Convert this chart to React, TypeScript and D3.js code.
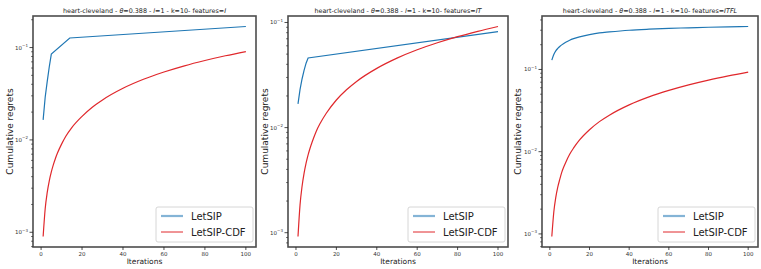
import React from "react";
import * as d3 from "d3";

const W = 761;
const H = 269;

const redIters = [1, 2, 3, 4, 5, 6, 7, 8, 10, 12, 15, 20, 25, 30, 40, 50, 60, 70, 80, 90, 100];
const redP1 = [0.0009, 0.0018, 0.0027, 0.0036, 0.0045, 0.0054, 0.0063, 0.0072, 0.009, 0.0109, 0.0136, 0.018, 0.0226, 0.0271, 0.0362, 0.0453, 0.0543, 0.0634, 0.0724, 0.0815, 0.0905];
const redP2 = [0.00092, 0.00183, 0.00275, 0.00366, 0.00458, 0.0055, 0.0064, 0.0073, 0.0092, 0.011, 0.0137, 0.0183, 0.0229, 0.0275, 0.0366, 0.0458, 0.055, 0.0641, 0.0733, 0.0824, 0.0916];
const redP3 = [0.00093, 0.00185, 0.00278, 0.0037, 0.0046, 0.0056, 0.0065, 0.0074, 0.0093, 0.0111, 0.0139, 0.0185, 0.0232, 0.0278, 0.0371, 0.0464, 0.0556, 0.0649, 0.0742, 0.0834, 0.0927];

const blueItersP1 = [1, 2, 3, 4, 5, 14, 100];
const blueP1 = [0.0165, 0.029, 0.043, 0.062, 0.085, 0.127, 0.169];
const blueItersP2 = [1, 2, 3, 4, 5, 6, 100];
const blueP2 = [0.0168, 0.023, 0.029, 0.035, 0.041, 0.046, 0.082];
const blueItersP3 = [1, 2, 3, 4, 5, 6, 8, 10, 12, 15, 20, 25, 30, 40, 50, 60, 70, 80, 90, 100];
const blueP3 = [0.13, 0.152, 0.168, 0.18, 0.19, 0.199, 0.214, 0.227, 0.237, 0.249, 0.265, 0.278, 0.286, 0.3, 0.309, 0.316, 0.321, 0.326, 0.33, 0.333];

const featureNames = ["I", "IT", "ITFL"];
const xTicks = [0, 20, 40, 60, 80, 100];
const seriesNames = ["LetSIP", "LetSIP-CDF"];

const BLUE = "#1f77b4";
const RED = "#e0282c";
const FONT = "DejaVu Sans, sans-serif";

type Panel = {
  left: number;
  right: number;
  blueX: number[];
  blueY: number[];
  redY: number[];
  feature: string;
  ylabelX: number;
};

const panels: Panel[] = [
  { left: 33, right: 256, blueX: blueItersP1, blueY: blueP1, redY: redP1, feature: featureNames[0], ylabelX: 13 },
  { left: 288, right: 508, blueX: blueItersP2, blueY: blueP2, redY: redP2, feature: featureNames[1], ylabelX: 268 },
  { left: 542, right: 758, blueX: blueItersP3, blueY: blueP3, redY: redP3, feature: featureNames[2], ylabelX: 521 },
];

const TOP = 16;
const BOTTOM = 247;

function PanelView({ p }: { p: Panel }) {
  const x = d3.scaleLinear().domain([-3.95, 104.95]).range([p.left, p.right]);
  const all = [...p.blueY, ...p.redY];
  const lmin = Math.log10(d3.min(all)!);
  const lmax = Math.log10(d3.max(all)!);
  const m = (lmax - lmin) * 0.05;
  const y = d3.scaleLog().domain([Math.pow(10, lmin - m), Math.pow(10, lmax + m)]).range([BOTTOM, TOP]);
  const [d0, d1] = y.domain();

  const majors: number[] = [];
  const minors: number[] = [];
  for (let e = Math.floor(Math.log10(d0)); e <= Math.ceil(Math.log10(d1)); e++) {
    for (let k = 1; k < 10; k++) {
      const v = k * Math.pow(10, e);
      if (v < d0 || v > d1) continue;
      if (k === 1) majors.push(v);
      else minors.push(v);
    }
  }

  const line = d3
    .line<[number, number]>()
    .x((d) => x(d[0]))
    .y((d) => y(d[1]));
  const lineSmooth = d3
    .line<[number, number]>()
    .x((d) => x(d[0]))
    .y((d) => y(d[1]))
    .curve(d3.curveMonotoneX);

  const blueData = p.blueX.map((v, i) => [v, p.blueY[i]] as [number, number]);
  const redData = redIters.map((v, i) => [v, p.redY[i]] as [number, number]);
  const cx = (p.left + p.right) / 2;
  const cy = (TOP + BOTTOM) / 2;
  const lgW = 97;
  const lgX = p.right - 3 - lgW;
  const lgY = 207;

  return (
    <g>
      <defs>
        <clipPath id={`clip${p.left}`}>
          <rect x={p.left} y={TOP} width={p.right - p.left} height={BOTTOM - TOP} />
        </clipPath>
      </defs>
      <g clipPath={`url(#clip${p.left})`}>
        <path d={p.blueX.length > 7 ? lineSmooth(blueData)! : line(blueData)!} fill="none" stroke={BLUE} strokeWidth={1.2} />
        <path d={lineSmooth(redData)!} fill="none" stroke={RED} strokeWidth={1.2} />
      </g>
      <rect x={p.left} y={TOP} width={p.right - p.left} height={BOTTOM - TOP} fill="none" stroke="#4d4d4d" strokeWidth={1.6} />
      {xTicks.map((t) => (
        <g key={t}>
          <line x1={x(t)} x2={x(t)} y1={BOTTOM} y2={BOTTOM + 3} stroke="#222" strokeWidth={0.8} />
          <text x={x(t)} y={255.5} fontSize={5.5} textAnchor="middle" fill="#333" fontFamily={FONT}>
            {t}
          </text>
        </g>
      ))}
      {majors.map((v) => (
        <g key={v}>
          <line x1={p.left - 3.5} x2={p.left} y1={y(v)} y2={y(v)} stroke="#222" strokeWidth={0.8} />
          <text x={p.left - 5} y={y(v) + 2} fontSize={5.5} textAnchor="end" fill="#333" fontFamily={FONT}>
            10
            <tspan dy={-2.5} fontSize={4}>
              {"\u2212" + Math.round(-Math.log10(v))}
            </tspan>
          </text>
        </g>
      ))}
      {minors.map((v) => (
        <line key={v} x1={p.left - 2} x2={p.left} y1={y(v)} y2={y(v)} stroke="#222" strokeWidth={0.6} />
      ))}
      <text x={cx} y={13} fontSize={6.4} textAnchor="middle" fill="#222" fontFamily={FONT}>
        {"heart-cleveland - "}
        <tspan fontStyle="italic">θ</tspan>
        {"=0.388 - "}
        <tspan fontStyle="italic">l</tspan>
        {"=1 - k=10- features="}
        <tspan fontStyle="italic">{p.feature}</tspan>
      </text>
      <text x={cx} y={264} fontSize={7.5} textAnchor="middle" fill="#222" fontFamily={FONT}>
        Iterations
      </text>
      <text
        transform={`translate(${p.ylabelX},${cy}) rotate(-90)`}
        fontSize={9}
        textAnchor="middle"
        fill="#222"
        fontFamily={FONT}
      >
        Cumulative regrets
      </text>
      <rect x={lgX} y={lgY} width={lgW} height={35} rx={2} fill="white" fillOpacity={0.85} stroke="#cccccc" strokeWidth={0.8} />
      <line x1={lgX + 5} x2={lgX + 27} y1={lgY + 9} y2={lgY + 9} stroke={BLUE} strokeOpacity={0.55} strokeWidth={2.2} />
      <text x={lgX + 35} y={lgY + 12.5} fontSize={10} fill="#222" fontFamily={FONT}>
        {seriesNames[0]}
      </text>
      <line x1={lgX + 5} x2={lgX + 27} y1={lgY + 25} y2={lgY + 25} stroke={RED} strokeWidth={1} />
      <text x={lgX + 35} y={lgY + 28.5} fontSize={10} fill="#222" fontFamily={FONT}>
        {seriesNames[1]}
      </text>
    </g>
  );
}

export default function App() {
  return (
    <svg width={W} height={H} style={{ position: "absolute", left: 0, top: 0, background: "white" }}>
      <rect width={W} height={H} fill="white" />
      {panels.map((p, i) => (
        <PanelView key={i} p={p} />
      ))}
    </svg>
  );
}
